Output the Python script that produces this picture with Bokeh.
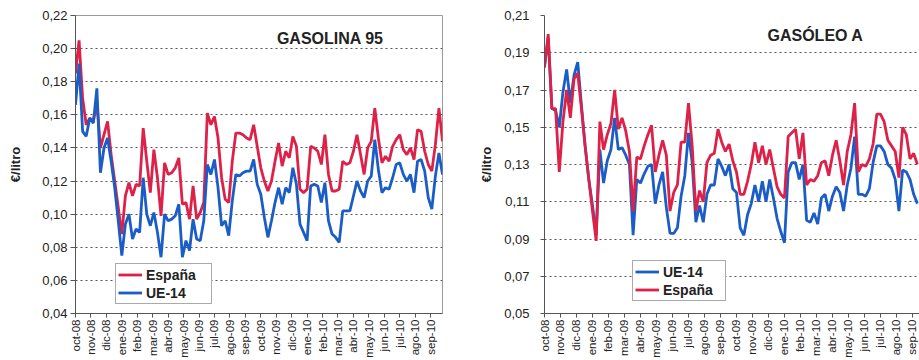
import math
import numpy as np
from bokeh.plotting import figure
from bokeh.layouts import row
from bokeh.models import FixedTicker, Legend, LegendItem, Label, Range1d
from bokeh.embed import file_html
from bokeh.resources import INLINE

# ---------------- data ----------------
months = ["oct-08", "nov-08", "dic-08", "ene-09", "feb-09", "mar-09", "abr-09", "may-09",
          "jun-09", "jul-09", "ago-09", "sep-09", "oct-09", "nov-09", "dic-09", "ene-10",
          "feb-10", "mar-10", "abr-10", "may-10", "jun-10", "jul-10", "ago-10", "sep-10"]
weeks_per_month = 52 / 12

# GASOLINA 95 (weekly, from first week of oct-08)
gas95_es = [0.185, 0.205, 0.170, 0.154, 0.158, 0.156, 0.168, 0.140, 0.148, 0.156,
            0.136, 0.120, 0.104, 0.088, 0.111, 0.119, 0.111, 0.118, 0.117, 0.152,
            0.132, 0.113, 0.139, 0.122, 0.099, 0.131, 0.124, 0.125, 0.128, 0.134,
            0.106, 0.107, 0.097, 0.117, 0.097, 0.101, 0.107, 0.161, 0.154, 0.159,
            0.146, 0.122, 0.109, 0.107, 0.132, 0.149, 0.149, 0.148, 0.146, 0.145,
            0.154, 0.141, 0.128, 0.120, 0.114, 0.120, 0.132, 0.143, 0.129, 0.138,
            0.134, 0.147, 0.141, 0.115, 0.113, 0.115, 0.141, 0.140, 0.138, 0.130,
            0.148, 0.124, 0.114, 0.114, 0.115, 0.132, 0.130, 0.131, 0.138, 0.148,
            0.136, 0.124, 0.140, 0.144, 0.164, 0.146, 0.131, 0.135, 0.132, 0.141,
            0.145, 0.148, 0.139, 0.136, 0.140, 0.133, 0.151, 0.150, 0.138, 0.130,
            0.126, 0.142, 0.164, 0.144]
gas95_ue = [0.166, 0.191, 0.150, 0.147, 0.158, 0.155, 0.176, 0.125, 0.140, 0.146,
            0.132, 0.116, 0.096, 0.075, 0.094, 0.100, 0.085, 0.091, 0.089, 0.122,
            0.100, 0.093, 0.101, 0.089, 0.074, 0.100, 0.096, 0.097, 0.099, 0.106,
            0.074, 0.084, 0.078, 0.097, 0.085, 0.084, 0.096, 0.130, 0.124, 0.133,
            0.116, 0.093, 0.096, 0.087, 0.108, 0.124, 0.123, 0.125, 0.126, 0.126,
            0.133, 0.118, 0.112, 0.098, 0.086, 0.096, 0.107, 0.116, 0.106, 0.116,
            0.113, 0.128, 0.118, 0.094, 0.089, 0.084, 0.117, 0.118, 0.117, 0.107,
            0.119, 0.096, 0.088, 0.086, 0.083, 0.102, 0.102, 0.102, 0.111, 0.120,
            0.114, 0.110, 0.120, 0.123, 0.145, 0.127, 0.113, 0.116, 0.115, 0.122,
            0.130, 0.131, 0.124, 0.120, 0.124, 0.113, 0.132, 0.133, 0.126, 0.110,
            0.103, 0.123, 0.137, 0.124]

# GASÓLEO A
gasoleo_es = [0.182, 0.200, 0.160, 0.160, 0.126, 0.153, 0.170, 0.155, 0.176, 0.179,
              0.160, 0.140, 0.122, 0.105, 0.089, 0.153, 0.138, 0.146, 0.152, 0.170,
              0.149, 0.155, 0.148, 0.137, 0.105, 0.134, 0.133, 0.140, 0.146, 0.151,
              0.126, 0.135, 0.143, 0.135, 0.105, 0.115, 0.119, 0.142, 0.142, 0.163,
              0.140, 0.105, 0.116, 0.110, 0.131, 0.135, 0.136, 0.149, 0.142, 0.137,
              0.141, 0.132, 0.126, 0.114, 0.114, 0.121, 0.130, 0.142, 0.131, 0.140,
              0.130, 0.138, 0.128, 0.118, 0.114, 0.112, 0.145, 0.147, 0.149, 0.133,
              0.147, 0.119, 0.122, 0.121, 0.124, 0.131, 0.132, 0.124, 0.135, 0.143,
              0.132, 0.119, 0.137, 0.146, 0.163, 0.126, 0.130, 0.129, 0.133, 0.141,
              0.157, 0.157, 0.153, 0.143, 0.140, 0.137, 0.123, 0.150, 0.146, 0.133,
              0.136, 0.130]
gasoleo_ue = [0.183, 0.198, 0.160, 0.159, 0.150, 0.169, 0.181, 0.163, 0.178, 0.185,
              0.162, 0.140, 0.122, 0.108, 0.092, 0.138, 0.120, 0.132, 0.138, 0.155,
              0.138, 0.139, 0.135, 0.130, 0.092, 0.122, 0.120, 0.125, 0.129, 0.130,
              0.109, 0.119, 0.126, 0.107, 0.093, 0.093, 0.096, 0.113, 0.124, 0.147,
              0.131, 0.099, 0.108, 0.099, 0.114, 0.119, 0.119, 0.133, 0.129, 0.124,
              0.130, 0.117, 0.115, 0.096, 0.092, 0.103, 0.109, 0.119, 0.110, 0.121,
              0.110, 0.122, 0.112, 0.101, 0.094, 0.088, 0.126, 0.131, 0.131, 0.122,
              0.130, 0.100, 0.099, 0.104, 0.098, 0.112, 0.114, 0.105, 0.113, 0.118,
              0.115, 0.105, 0.119, 0.128, 0.145, 0.114, 0.114, 0.113, 0.117, 0.131,
              0.140, 0.140, 0.137, 0.130, 0.128, 0.122, 0.105, 0.127, 0.126, 0.122,
              0.114, 0.109]

y_ticks_g95 = [0.04, 0.06, 0.08, 0.10, 0.12, 0.14, 0.16, 0.18, 0.20, 0.22]
y_labels_g95 = ["0,04", "0,06", "0,08", "0,10", "0,12", "0,14", "0,16", "0,18", "0,20", "0,22"]
y_ticks_gas = [0.05, 0.07, 0.09, 0.11, 0.13, 0.15, 0.17, 0.19, 0.21]
y_labels_gas = ["0,05", "0,07", "0,09", "0,11", "0,13", "0,15", "0,17", "0,19", "0,21"]

RED = "#DE2148"
BLUE = "#1B5DC6"
FONT = "Liberation Sans"


def make_panel(width, x_end, y_ticks, y_labels, border_left, border_top, border_right,
               tick_standoff, tick_out, label_standoff, outline):
    p = figure(width=width, height=360, output_backend="svg", toolbar_location=None,
               x_range=Range1d(0, x_end),
               y_range=Range1d(y_ticks[0], y_ticks[-1]),
               min_border_left=border_left, min_border_top=border_top,
               min_border_right=border_right, min_border_bottom=0)
    p.background_fill_color = "white"
    p.border_fill_color = "white"
    p.outline_line_color = "#9a9a9a" if outline else None
    # x axis (months)
    p.xaxis.ticker = FixedTicker(ticks=list(range(len(months))), minor_ticks=[])
    p.xaxis.major_label_overrides = {i: m for i, m in enumerate(months)}
    p.xaxis.major_label_orientation = math.pi / 2
    p.xaxis.major_label_text_font = FONT
    p.xaxis.major_label_text_font_size = "11.5px"
    p.xaxis.major_label_text_color = "#222222"
    p.xaxis.major_label_standoff = 2
    p.xaxis.major_tick_out = 4
    p.xaxis.major_tick_in = 0
    p.xaxis.axis_line_color = "#555555"
    p.xaxis.major_tick_line_color = "#555555"
    # y axis
    p.yaxis.ticker = FixedTicker(ticks=y_ticks, minor_ticks=[])
    p.yaxis.major_label_overrides = {t: l for t, l in zip(y_ticks, y_labels)}
    p.yaxis.major_label_text_font = FONT
    p.yaxis.major_label_text_font_size = "13px"
    p.yaxis.major_label_text_color = "#222222"
    p.yaxis.major_label_standoff = tick_standoff
    p.yaxis.major_tick_out = tick_out
    p.yaxis.major_tick_in = 0
    p.yaxis.axis_line_color = "#555555"
    p.yaxis.major_tick_line_color = "#555555"
    p.yaxis.axis_label = "€/litro"
    p.yaxis.axis_label_text_font = FONT
    p.yaxis.axis_label_text_font_style = "bold"
    p.yaxis.axis_label_text_font_size = "13px"
    p.yaxis.axis_label_text_color = "#222222"
    p.yaxis.axis_label_standoff = label_standoff
    # grid
    p.xgrid.visible = False
    p.ygrid.ticker = FixedTicker(ticks=y_ticks, minor_ticks=[])
    p.ygrid.grid_line_color = "#555555"
    p.ygrid.grid_line_dash = "2 3"
    p.ygrid.grid_line_width = 1
    return p


def legend_for(items, loc, label_width):
    return Legend(items=items, location=loc, padding=2, spacing=1, margin=0,
                  glyph_width=24, glyph_height=17, label_height=17, label_standoff=4,
                  label_width=label_width,
                  label_text_font=FONT, label_text_font_style="bold",
                  label_text_font_size="14px", label_text_color="#222222",
                  border_line_color="#555555", border_line_width=1.5,
                  background_fill_color="white", background_fill_alpha=1.0)


# ---------------- GASOLINA 95 ----------------
p1 = make_panel(459, 103 / weeks_per_month, y_ticks_g95, y_labels_g95,
                border_left=75, border_top=15, border_right=17,
                tick_standoff=3, tick_out=5, label_standoff=16, outline=True)
r1_es = p1.line(np.arange(len(gas95_es)) / weeks_per_month, gas95_es,
                line_color=RED, line_width=2.8)
r1_ue = p1.line(np.arange(len(gas95_ue)) / weeks_per_month, gas95_ue,
                line_color=BLUE, line_width=2.8)
p1.add_layout(Label(x=16.5, y=0.2061, text="GASOLINA 95", text_align="center",
                    text_baseline="middle", text_font=FONT, text_font_style="bold",
                    text_font_size="16px", text_color="#222222"))
p1.add_layout(legend_for([LegendItem(label="España", renderers=[r1_es]),
                          LegendItem(label="UE-14", renderers=[r1_ue])], (40, 9), 63))

# ---------------- GASÓLEO A ----------------
p2 = make_panel(460, 23.44, y_ticks_gas, y_labels_gas,
                border_left=85, border_top=13, border_right=0,
                tick_standoff=11, tick_out=4, label_standoff=7, outline=False)
r2_ue = p2.line(np.arange(len(gasoleo_ue)) / weeks_per_month, gasoleo_ue,
                line_color=BLUE, line_width=2.8)
r2_es = p2.line(np.arange(len(gasoleo_es)) / weeks_per_month, gasoleo_es,
                line_color=RED, line_width=2.8)
p2.add_layout(Label(x=16.94, y=0.1993, text="GASÓLEO A", text_align="center",
                    text_baseline="middle", text_font=FONT, text_font_style="bold",
                    text_font_size="16px", text_color="#222222"))
p2.add_layout(legend_for([LegendItem(label="UE-14", renderers=[r2_ue]),
                          LegendItem(label="España", renderers=[r2_es])], (88, 12), 60))

layout = row(p1, p2)
open("out.html", "w").write(file_html(layout, INLINE))
